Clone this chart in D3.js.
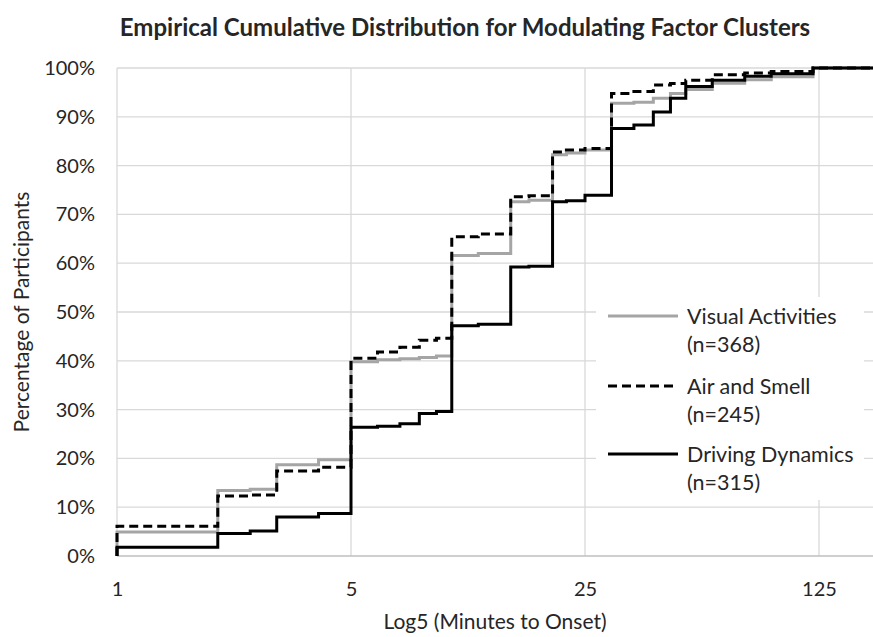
<!DOCTYPE html>
<html>
<head>
<meta charset="utf-8">
<script src="https://cdn.jsdelivr.net/npm/d3@7"></script>
<style>
  body { margin: 0; background: #fff; }
  text { font-family: Lato, "Open Sans", sans-serif; fill: #262626; }
</style>
</head>
<body>
<div id="chart"></div>
<script>
// minutes to onset at which the ECDF steps
var minutes = [1, 2, 2.5, 3, 4, 5, 6, 7, 8, 9, 10, 12, 15, 17, 20, 22, 25, 30, 35, 40, 45, 50, 60, 75, 90, 120];
// cumulative percentage of participants at each time
var visualPct = [4.9, 13.4, 13.7, 18.7, 19.7, 39.8, 40.2, 40.4, 40.7, 41.0, 61.6, 62.0, 72.6, 72.9, 82.2, 82.6, 83.2, 92.8, 93.0, 93.8, 94.8, 95.6, 96.9, 97.6, 98.2, 100];
var airPct    = [6.1, 12.3, 12.5, 17.4, 18.2, 40.5, 41.8, 42.8, 44.2, 44.6, 65.4, 66.0, 73.6, 73.8, 82.8, 83.2, 83.5, 94.8, 95.2, 96.5, 96.8, 97.5, 98.6, 99.0, 99.3, 100];
var drivingPct = [1.8, 4.6, 5.1, 8.0, 8.7, 26.4, 26.6, 27.1, 29.2, 29.6, 47.2, 47.5, 59.2, 59.4, 72.6, 72.8, 73.9, 87.6, 88.3, 91.0, 93.8, 96.2, 97.5, 98.3, 98.8, 100];

var seriesNames = ["Visual Activities", "Air and Smell", "Driving Dynamics"];
var seriesN = ["(n=368)", "(n=245)", "(n=315)"];
var xTicks = [1, 5, 25, 125];
var yTicks = [0, 10, 20, 30, 40, 50, 60, 70, 80, 90, 100];

var chart = new Object;

chart.create = function() {
  var width = 873, height = 637;
  var pLeft = 117, pRight = 873, pTop = 68, pBottom = 556;

  var svg = d3.select("#chart").append("svg").attr("width", width).attr("height", height);

  var x = d3.scaleLog().base(5).domain([1, 125]).range([pLeft, 819]);
  var xMax = x.invert(pRight);
  var y = d3.scaleLinear().domain([0, 100]).range([pBottom, pTop]);

  // gridlines
  var grid = svg.append("g");
  grid.selectAll("line.h").data(yTicks.slice(1)).enter().append("line")
    .attr("x1", pLeft).attr("x2", pRight)
    .attr("y1", function(d) { return y(d); }).attr("y2", function(d) { return y(d); })
    .attr("stroke", "#d9d9d9").attr("stroke-width", 1.3);
  grid.selectAll("line.v").data(xTicks).enter().append("line")
    .attr("x1", function(d) { return x(d); }).attr("x2", function(d) { return x(d); })
    .attr("y1", pTop).attr("y2", pBottom)
    .attr("stroke", "#d9d9d9").attr("stroke-width", 1.3);
  grid.append("line").attr("x1", pLeft).attr("x2", pRight).attr("y1", pBottom).attr("y2", pBottom)
    .attr("stroke", "#bfbfbf").attr("stroke-width", 1.3);

  // axes (labels only)
  var xAxis = svg.append("g").attr("transform", "translate(0," + pBottom + ")")
    .call(d3.axisBottom(x).tickValues(xTicks).tickFormat(d3.format("d")).tickSize(0).tickPadding(26));
  var yAxis = svg.append("g").attr("transform", "translate(" + pLeft + ",0)")
    .call(d3.axisLeft(y).tickValues(yTicks).tickFormat(function(d) { return d + "%"; }).tickSize(0).tickPadding(22));
  [xAxis, yAxis].forEach(function(a) {
    a.select(".domain").remove();
    a.selectAll("text").style("font-family", "Lato, sans-serif").style("font-size", "20px").attr("fill", "#262626");
  });

  // ecdf lines
  var series = [
    { name: seriesNames[0], values: visualPct, color: "#a5a5a5", dash: null },
    { name: seriesNames[1], values: airPct, color: "#000", dash: "9,5" },
    { name: seriesNames[2], values: drivingPct, color: "#000", dash: null }
  ];

  var line = d3.line()
    .x(function(d) { return x(d[0]); })
    .y(function(d) { return y(d[1]); })
    .curve(d3.curveStepAfter);

  series.forEach(function(s) {
    var pts = [[1, 0]];
    minutes.forEach(function(m, i) { pts.push([m, s.values[i]]); });
    pts.push([xMax, s.values[s.values.length - 1]]);
    svg.append("path").datum(pts)
      .attr("d", line)
      .attr("fill", "none")
      .attr("stroke", s.color)
      .attr("stroke-width", 3)
      .attr("stroke-dasharray", s.dash);
  });

  // legend
  var legend = svg.append("g");
  legend.append("rect").attr("x", 596).attr("y", 297).attr("width", 268).attr("height", 203).attr("fill", "#fff");
  var ly = [316, 386, 454];
  series.forEach(function(s, i) {
    legend.append("line").attr("x1", 608).attr("x2", 678).attr("y1", ly[i]).attr("y2", ly[i])
      .attr("stroke", s.color).attr("stroke-width", 3).attr("stroke-dasharray", s.dash);
    legend.append("text").attr("x", 687).attr("y", ly[i]).attr("dy", "0.35em")
      .style("font-size", "21.5px").text(s.name);
    legend.append("text").attr("x", 687).attr("y", ly[i] + 28.5).attr("dy", "0.35em")
      .style("font-size", "21.5px").text(seriesN[i]);
  });

  // titles
  svg.append("text").attr("x", 465).attr("y", 28).attr("dy", "0.35em").attr("text-anchor", "middle")
    .style("font-size", "24px").style("font-weight", "bold")
    .text("Empirical Cumulative Distribution for Modulating Factor Clusters");
  svg.append("text").attr("x", 495).attr("y", 622).attr("dy", "0.35em").attr("text-anchor", "middle")
    .style("font-size", "21px").text("Log5 (Minutes to Onset)");
  svg.append("text").attr("transform", "translate(22," + ((pTop + pBottom) / 2) + ") rotate(-90)")
    .attr("dy", "0.35em").attr("text-anchor", "middle")
    .style("font-size", "21px").text("Percentage of Participants");
};

chart.create();
</script>
</body>
</html>
